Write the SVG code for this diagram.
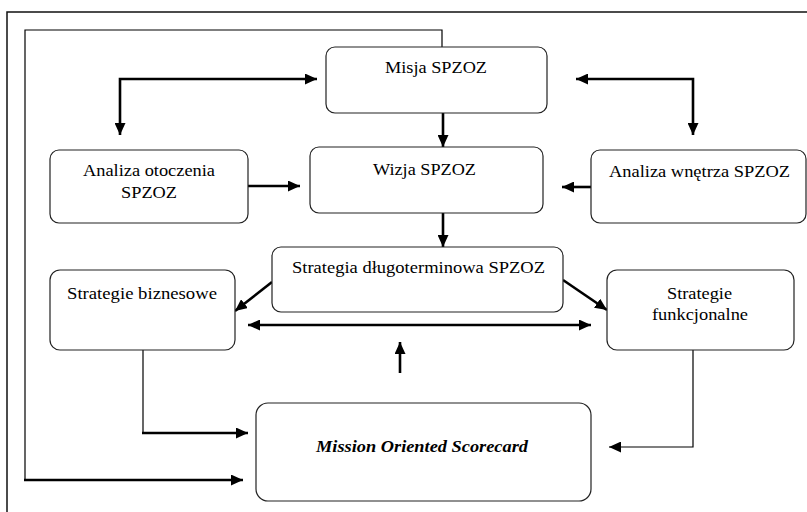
<svg xmlns="http://www.w3.org/2000/svg" width="807" height="512" viewBox="0 0 807 512">
  <style>
    .box { fill: #ffffff; stroke: #222222; stroke-width: 1.2; }
    text { font-size: 17px; fill: #000000; text-anchor: middle; }
    .ti { font-weight: bold; font-style: italic; }
    .thick { fill: none; stroke: #000000; stroke-width: 2.6; }
    .thin { fill: none; stroke: #000000; stroke-width: 1.2; }
    .frame { fill: none; stroke: #111111; stroke-width: 1.5; }
  </style>
  <defs>
    <marker id="ah" markerUnits="userSpaceOnUse" markerWidth="12" markerHeight="11" refX="12" refY="5.5" orient="auto-start-reverse">
      <path d="M0,0 L12,5.5 L0,11 z" fill="#000000"/>
    </marker>
  </defs>
  <rect width="807" height="512" fill="#ffffff"/>
  <path class="frame" d="M7,512 V12 H807"/>

  <g id="connectors">
    <path class="thin" d="M442,47 V30 H25 V480"/>
    <path class="thick" d="M24,480 H243" marker-end="url(#ah)"/>
    <path class="thick" d="M120,135 V79 H317" marker-start="url(#ah)" marker-end="url(#ah)"/>
    <path class="thick" d="M576,79 H693 V135" marker-start="url(#ah)" marker-end="url(#ah)"/>
    <path class="thick" d="M443,113 V147" marker-end="url(#ah)"/>
    <path class="thick" d="M248,186 H300" marker-end="url(#ah)"/>
    <path class="thick" d="M591,187 H562" marker-end="url(#ah)"/>
    <path class="thick" d="M443,213 V247" marker-end="url(#ah)"/>
    <path class="thick" d="M272,282 L235,311" marker-end="url(#ah)"/>
    <path class="thick" d="M563,280 L607,310" marker-end="url(#ah)"/>
    <path class="thick" d="M248,325 H591" marker-start="url(#ah)" marker-end="url(#ah)"/>
    <path class="thick" d="M400,373 V342" marker-end="url(#ah)"/>
    <path class="thin" d="M143,350 V433"/>
    <path class="thick" d="M142,433 H248" marker-end="url(#ah)"/>
    <path class="thin" d="M693,347 V447 H609" marker-end="url(#ah)"/>
  </g>

  <g font-family="Liberation Serif, DejaVu Serif, serif">
  <g id="misja">
    <rect class="box" x="326" y="47" width="221" height="66" rx="9"/>
    <text x="436" y="73" textLength="102" lengthAdjust="spacingAndGlyphs">Misja SPZOZ</text>
  </g>
  <g id="wizja">
    <rect class="box" x="310" y="147" width="233" height="66" rx="9"/>
    <text x="424.5" y="175" textLength="103" lengthAdjust="spacingAndGlyphs">Wizja SPZOZ</text>
  </g>
  <g id="analiza-otoczenia">
    <rect class="box" x="50" y="150" width="198" height="73" rx="9"/>
    <text x="149" y="176" textLength="132" lengthAdjust="spacingAndGlyphs">Analiza otoczenia</text>
    <text x="149" y="198" textLength="56" lengthAdjust="spacingAndGlyphs">SPZOZ</text>
  </g>
  <g id="analiza-wnetrza">
    <rect class="box" x="591" y="150" width="215" height="73" rx="9"/>
    <text x="699.5" y="177" textLength="181" lengthAdjust="spacingAndGlyphs">Analiza wnętrza SPZOZ</text>
  </g>
  <g id="strategia-dlugoterminowa">
    <rect class="box" x="272" y="247" width="291" height="65" rx="9"/>
    <text x="418.5" y="273" textLength="253" lengthAdjust="spacingAndGlyphs">Strategia długoterminowa SPZOZ</text>
  </g>
  <g id="strategie-biznesowe">
    <rect class="box" x="50" y="270" width="185" height="80" rx="10"/>
    <text x="142" y="299" textLength="150" lengthAdjust="spacingAndGlyphs">Strategie biznesowe</text>
  </g>
  <g id="strategie-funkcjonalne">
    <rect class="box" x="607" y="270" width="187" height="80" rx="10"/>
    <text x="699.5" y="299" textLength="65" lengthAdjust="spacingAndGlyphs">Strategie</text>
    <text x="700" y="320" textLength="96" lengthAdjust="spacingAndGlyphs">funkcjonalne</text>
  </g>
  <g id="mission-oriented-scorecard">
    <rect class="box" x="256" y="403" width="335" height="98" rx="12"/>
    <text class="ti" x="422" y="452" textLength="212" lengthAdjust="spacingAndGlyphs">Mission Oriented Scorecard</text>
  </g>
  </g>
</svg>
